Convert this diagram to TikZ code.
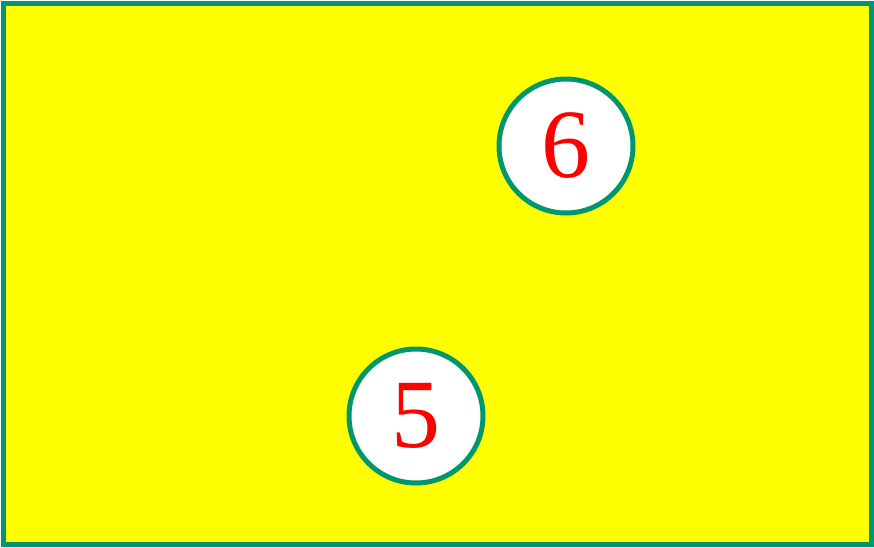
\documentclass[tikz,border=0pt]{standalone}
\usepackage{fontspec}
\setmainfont{Liberation Serif}
\usetikzlibrary{positioning}
\definecolor{framegreen}{RGB}{0,150,110}
\definecolor{fieldyellow}{RGB}{255,255,0}
\definecolor{digitred}{RGB}{255,0,0}

\begin{document}
\begin{tikzpicture}[
  x=0.5pt, y=-0.5pt,
  field/.style={draw=framegreen, fill=fieldyellow, line width=2.5pt},
  disc/.style={circle, draw=framegreen, fill=white, line width=2.5pt,
               minimum size=67pt, inner sep=0pt, text=digitred,
               font=\fontsize{49}{49}\selectfont},
]
\useasboundingbox (0,0) rectangle (874,547);

% Yellow field
\draw[field] (3,3) rectangle (871,544);

% Numbered discs
\node[disc] (six)  at (566,146) {6};
\node[disc] (five) at (416,416) {5};

\end{tikzpicture}
\end{document}
